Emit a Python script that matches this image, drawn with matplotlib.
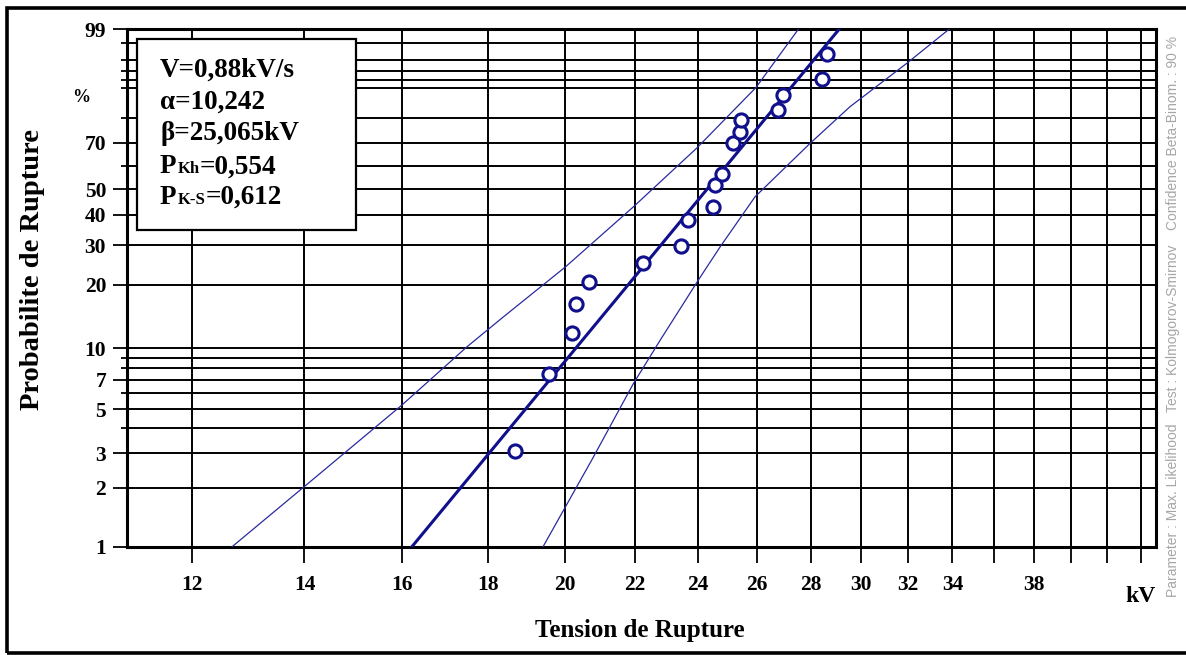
import numpy as np
import matplotlib
matplotlib.use("Agg")
import matplotlib.pyplot as plt
from matplotlib.patches import Rectangle
from matplotlib.ticker import NullLocator, FixedLocator

# ---------------- data ----------------
point_kv = [18.68, 19.58, 20.19, 20.31, 20.68, 22.27, 23.44, 23.68, 24.48,
            24.57, 24.79, 25.17, 25.42, 25.46, 26.79, 26.97, 28.45, 28.62]
point_pct = [3.08, 7.45, 11.9, 16.3, 20.6, 25.2, 29.8, 38.2, 42.9,
             51.7, 56.4, 70.0, 74.6, 79.3, 83.0, 87.9, 92.2, 96.8]

fit_kv = [16.22, 29.11]
fit_pct = [1, 99]

upper_kv = [12.68, 14.01, 16.0, 17.49, 18.34, 20.02, 21.97, 23.96, 25.98, 27.53]
upper_pct = [1, 2.04, 5.24, 10.17, 13.95, 24.18, 43.07, 67.67, 90.09, 99]

lower_kv = [19.41, 20.75, 21.97, 22.79, 24.01, 24.74, 25.95, 27.98, 29.55, 31.94, 33.84]
lower_pct = [1, 2.77, 6.72, 10.97, 21.06, 29.59, 46.97, 69.69, 84.14, 95.40, 99]

x_ticks = [12, 14, 16, 18, 20, 22, 24, 26, 28, 30, 32, 34, 36, 38, 40, 42, 44]
x_tick_labels = ["12", "14", "16", "18", "20", "22", "24", "26", "28", "30",
                 "32", "34", "", "38", "", "", ""]
y_major = [1, 2, 3, 5, 7, 10, 20, 30, 40, 50, 70, 99]
y_major_labels = ["1", "2", "3", "5", "7", "10", "20", "30", "40", "50", "70", "99"]
y_minor = [4, 6, 8, 9, 60, 80, 90, 92, 94, 96, 98]

box_lines = [("V=0,88kV/s", None, None),
             ("\u03b1=10,242", None, None),
             ("\u03b2=25,065kV", None, None),
             ("P", "Kh", "=0,554"),
             ("P", "K-S", "=0,612")]
side_texts = ["Parameter : Max. Likelihood", "Test : Kolmogorov-Smirnov",
              "Confidence Beta-Binom. : 90 %"]

# ---------------- figure ----------------
W, H, DPI = 1186, 655, 100
plt.rcParams['font.family'] = ['Liberation Serif', 'DejaVu Serif']
plt.rcParams['font.weight'] = 'bold'

fig = plt.figure(figsize=(W / DPI, H / DPI), dpi=DPI)
fig.patch.set_facecolor('white')

def fx(x):
    return x / W

def fy(y):
    return 1 - y / H

ax_l, ax_r, ax_t, ax_b = 127, 1156, 29.3, 546.7
ax = fig.add_axes([fx(ax_l), fy(ax_b), fx(ax_r - ax_l), (ax_b - ax_t) / H])

def fwd(p):
    p = np.clip(np.asarray(p, dtype=float), 1e-6, 100 - 1e-6)
    return np.log(-np.log(1 - p / 100.0))

def inv(w):
    w = np.asarray(w, dtype=float)
    return 100.0 * (1 - np.exp(-np.exp(w)))

ax.set_xscale('log')
ax.set_yscale('function', functions=(fwd, inv))
ax.set_xlim(10.98, 44.93)
ax.set_ylim(1, 99)

navy = '#10108c'
ax.plot(upper_kv, upper_pct, color='#2a2aa0', lw=0.9, zorder=3, solid_joinstyle='round')
ax.plot(lower_kv, lower_pct, color='#2a2aa0', lw=0.9, zorder=3, solid_joinstyle='round')
ax.plot(fit_kv, fit_pct, color=navy, lw=2.2, zorder=4)
ax.plot(point_kv, point_pct, linestyle='none', marker='o', markersize=9.5,
        markeredgewidth=2.2, markeredgecolor=navy, markerfacecolor='white', zorder=5)

# ticks
ax.xaxis.set_major_locator(FixedLocator(x_ticks))
ax.xaxis.set_minor_locator(NullLocator())
ax.set_xticklabels(x_tick_labels)
ax.yaxis.set_major_locator(FixedLocator(y_major))
ax.set_yticklabels(y_major_labels)
ax.yaxis.set_minor_locator(FixedLocator(y_minor))

ax.tick_params(axis='x', which='major', direction='out', length=11.5, width=1.3,
               pad=9, labelsize=15.5, colors='black')
ax.tick_params(axis='y', which='major', direction='out', length=10, width=1.3,
               pad=5, labelsize=15.5)
ax.tick_params(axis='y', which='minor', direction='out', length=4.5, width=1.3)
for lab in ax.get_xticklabels() + ax.get_yticklabels():
    lab.set_fontweight('bold')
    lab.set_family(['Liberation Serif'])

ax.grid(True, which='both', color='black', lw=1.4)
for s in ax.spines.values():
    s.set_linewidth(2.2)
    s.set_color('black')

# axis labels
fig.text(fx(33), fy(270), "Probabilite de Rupture", rotation=90, ha='center',
         va='center', fontsize=20.5, fontweight='bold')
fig.text(fx(640), fy(630), "Tension de Rupture", ha='center', va='center',
         fontsize=18, fontweight='bold')
fig.text(fx(1156), fy(601.7), "kV", ha='right', va='baseline', fontsize=17,
         fontweight='bold')
fig.text(fx(81), fy(98), "%", ha='center', va='center', fontsize=13,
         fontweight='bold')

# side gray texts (rotated)
side_bottoms = [597, 412, 230]
for txt, yb in zip(side_texts, side_bottoms):
    fig.text(fx(1173), fy(yb), txt, rotation=90, ha='center', va='bottom',
             fontsize=10, family=['Liberation Sans'], fontweight='normal',
             color='#a6a6a6')

# parameter box
box = Rectangle((fx(137), fy(230)), fx(356 - 137), (230 - 39) / H,
                transform=fig.transFigure, facecolor='white', edgecolor='black',
                lw=1.6, zorder=5)
fig.add_artist(box)

fig.canvas.draw()
renderer = fig.canvas.get_renderer()
baselines = [76.7, 108.3, 140.0, 173.3, 204.0]
for (main, sub, rest), yb in zip(box_lines, baselines):
    t = fig.text(fx(160), fy(yb), main, ha='left', va='baseline', fontsize=19.5,
                 fontweight='bold', zorder=6)
    if sub is not None:
        bb = t.get_window_extent(renderer)
        x1 = bb.x1 / fig.dpi / fig.get_figwidth()
        t2 = fig.text(x1 + fx(1), fy(yb), sub, ha='left', va='baseline',
                      fontsize=12, fontweight='bold', zorder=6)
        bb2 = t2.get_window_extent(renderer)
        x2 = bb2.x1 / fig.dpi / fig.get_figwidth()
        fig.text(x2, fy(yb), rest, ha='left', va='baseline', fontsize=19.5,
                 fontweight='bold', zorder=6)

# outer frame
frame = Rectangle((fx(7), fy(653)), fx(1200 - 7), (653 - 7.5) / H,
                  transform=fig.transFigure, facecolor='none', edgecolor='black',
                  lw=2.6, zorder=10)
fig.add_artist(frame)

fig.savefig("out.png", dpi=DPI, facecolor='white')
